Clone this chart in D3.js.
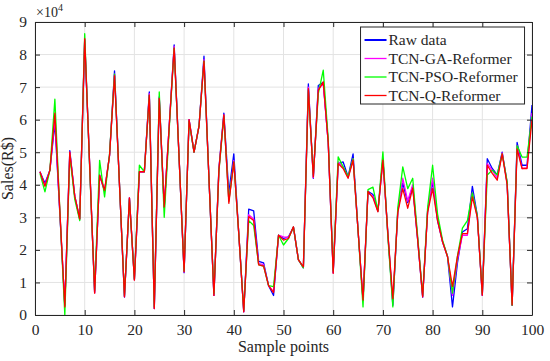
<!DOCTYPE html>
<html>
<head>
<meta charset="utf-8">
<script src="https://cdn.jsdelivr.net/npm/d3@7"></script>
<style>
  body { margin: 0; background: #fff; }
  text { font-family: "Liberation Serif", "Times New Roman", serif; fill: #262626; }
</style>
</head>
<body>
<svg id="chart" width="550" height="361"></svg>
<script>
// values in units of 1e4, sample points 1..100
const rawData = [4.4,4.05,4.45,5.9,3.1,0.3,5.05,3.65,2.95,8.45,4.6,0.7,4.3,3.8,4.9,7.5,4.0,0.55,3.6,1.1,
  4.4,4.4,6.85,0.2,6.7,3.3,5.8,8.3,4.8,1.3,6.0,5.0,5.8,7.95,4.2,0.6,4.5,6.2,3.75,4.95,
  2.5,0.1,3.25,3.2,1.65,1.6,0.9,0.6,2.45,2.35,2.4,2.7,1.7,1.45,7.1,4.2,7.05,7.15,5.3,1.3,
  4.65,4.7,4.25,4.95,2.6,0.45,3.8,3.7,3.2,4.8,2.5,0.3,3.2,4.05,3.45,3.95,2.3,0.55,3.2,4.1,
  2.9,2.25,1.8,0.25,1.6,2.55,2.65,3.95,3.05,0.6,4.8,4.5,4.3,5.0,4.05,0.3,5.3,4.6,4.6,6.45];
const gaData = [4.4,3.98,4.45,6.05,3.15,0.28,5.0,3.65,2.95,8.47,4.6,0.68,4.3,3.82,4.9,7.4,4.0,0.56,3.6,1.08,
  4.4,4.4,6.8,0.2,6.68,3.3,5.8,8.25,4.8,1.32,6.0,5.0,5.8,7.85,4.2,0.6,4.45,6.15,3.5,4.75,
  2.5,0.1,3.08,2.95,1.58,1.55,0.9,0.72,2.45,2.4,2.38,2.7,1.7,1.46,7.0,4.22,6.95,7.1,5.3,1.29,
  4.7,4.55,4.22,4.8,2.6,0.45,3.75,3.65,3.18,4.78,2.45,0.4,3.18,4.2,3.5,4.0,2.35,0.56,3.2,4.2,
  2.95,2.25,1.8,0.6,1.7,2.45,2.45,3.75,3.0,0.61,4.65,4.45,4.2,4.98,4.05,0.3,5.2,4.5,4.52,6.2];
const psoData = [4.35,3.78,4.45,6.63,3.2,0.0,4.9,3.55,2.9,8.64,4.5,0.75,4.75,3.63,4.95,7.4,4.0,0.6,3.55,1.1,
  4.6,4.4,6.75,0.25,6.85,3.0,5.7,8.2,4.8,1.35,5.95,5.0,5.8,7.8,4.2,0.65,4.4,6.1,3.5,4.7,
  2.5,0.15,2.9,2.75,1.55,1.5,0.9,0.87,2.45,2.15,2.35,2.7,1.7,1.45,6.9,4.3,6.8,7.52,5.4,1.35,
  4.86,4.55,4.25,4.8,2.6,0.25,3.85,3.93,3.2,5.01,2.4,0.25,3.3,4.55,3.88,4.2,2.4,0.6,3.3,4.6,
  3.1,2.3,1.8,0.67,1.8,2.67,2.9,3.75,3.05,0.65,4.3,4.45,4.3,4.95,4.1,0.3,5.2,4.85,4.85,6.1];
const qData = [4.4,3.95,4.45,6.2,3.2,0.25,5.0,3.65,2.95,8.49,4.6,0.67,4.29,3.83,4.9,7.35,4.0,0.56,3.6,1.07,
  4.4,4.4,6.75,0.2,6.65,3.32,5.8,8.2,4.8,1.33,6.0,5.0,5.8,7.8,4.2,0.6,4.45,6.15,3.43,4.7,
  2.5,0.1,3.02,2.9,1.54,1.5,0.9,0.69,2.45,2.3,2.35,2.71,1.69,1.48,6.95,4.24,6.9,7.16,5.3,1.28,
  4.65,4.5,4.2,4.76,2.6,0.46,3.8,3.6,3.17,4.76,2.5,0.5,3.15,3.88,3.28,3.9,2.3,0.56,3.15,3.88,
  2.9,2.25,1.79,0.87,1.8,2.5,2.5,3.63,3.0,0.61,4.6,4.35,4.14,4.95,4.0,0.31,5.1,4.5,4.5,6.0];

const seriesNames = ["Raw data", "TCN-GA-Reformer", "TCN-PSO-Reformer", "TCN-Q-Reformer"];
const seriesColors = ["#0000ff", "#ff00ff", "#00ff00", "#ff0000"];
const xTicks = d3.range(0, 101, 10);
const yTicks = d3.range(0, 10, 1);

var svg = d3.select("#chart");
var margin = {top: 22, right: 18, bottom: 46, left: 35},
    width = 550 - margin.left - margin.right,
    height = 361 - margin.top - margin.bottom;

var g = svg.append("g").attr("transform", "translate(" + margin.left + "," + margin.top + ")");

var x = d3.scaleLinear().domain([0, 100]).range([0, width]);
var y = d3.scaleLinear().domain([0, 9]).range([height, 0]);

// grid
g.append("g").selectAll("line").data(xTicks).enter().append("line")
  .attr("x1", d => x(d)).attr("x2", d => x(d)).attr("y1", 0).attr("y2", height)
  .attr("stroke", "#e3e3e3").attr("stroke-width", 1);
g.append("g").selectAll("line").data(yTicks).enter().append("line")
  .attr("x1", 0).attr("x2", width).attr("y1", d => y(d)).attr("y2", d => y(d))
  .attr("stroke", "#e3e3e3").attr("stroke-width", 1);

// lines
var allSeries = [rawData, gaData, psoData, qData];
var line = d3.line().x((d, i) => x(i + 1)).y(d => y(d));
allSeries.forEach(function(s, k) {
  g.append("path").datum(s)
    .attr("fill", "none")
    .attr("stroke", seriesColors[k])
    .attr("stroke-width", 1.3)
    .attr("stroke-linejoin", "round")
    .attr("d", line);
});

// axes (ticks inside, MATLAB style)
var xAxis = d3.axisBottom(x).tickValues(xTicks).tickSizeInner(-5).tickSizeOuter(0).tickPadding(9);
var yAxis = d3.axisLeft(y).tickValues(yTicks).tickSizeInner(-5).tickSizeOuter(0).tickPadding(8);
var xTop = d3.axisTop(x).tickValues(xTicks).tickSizeInner(-5).tickSizeOuter(0).tickFormat("");
var yRight = d3.axisRight(y).tickValues(yTicks).tickSizeInner(-5).tickSizeOuter(0).tickFormat("");

function styleAxis(sel) {
  sel.attr("font-family", "Liberation Serif").attr("font-size", 15);
  sel.selectAll("path").attr("stroke", "#262626");
  sel.selectAll("line").attr("stroke", "#262626");
  sel.selectAll("text")
    .attr("font-family", "Liberation Serif")
    .style("font-family", "'Liberation Serif', serif")
    .style("font-size", "15.5px").attr("fill", "#262626");
}
g.append("g").attr("transform", "translate(0," + height + ")").call(xAxis).call(styleAxis);
g.append("g").call(yAxis).call(styleAxis);
g.append("g").call(xTop).call(styleAxis);
g.append("g").attr("transform", "translate(" + width + ",0)").call(yRight).call(styleAxis);

// labels
g.append("text").attr("x", width / 2).attr("y", height + 37)
  .attr("text-anchor", "middle").style("font-size", "16px").text("Sample points");
g.append("text").attr("transform", "translate(-22," + (height / 2) + ") rotate(-90)")
  .attr("text-anchor", "middle").style("font-size", "16px").text("Sales(R$)");
var exp = g.append("text").attr("x", 1).attr("y", -5).style("font-size", "14px");
exp.append("tspan").text("\u00d710");
exp.append("tspan").attr("dy", -6).style("font-size", "10px").text("4");

// legend
var legend = g.append("g").attr("transform", "translate(" + (x(65.5)) + ",5)");
legend.append("rect").attr("width", 164).attr("height", 77)
  .attr("fill", "#fff").attr("stroke", "#262626").attr("stroke-width", 1);
seriesNames.forEach(function(name, k) {
  var row = legend.append("g").attr("transform", "translate(0," + (13 + k * 18.5) + ")");
  row.append("line").attr("x1", 4).attr("x2", 26).attr("y1", 0).attr("y2", 0)
    .attr("stroke", seriesColors[k]).attr("stroke-width", k === 0 ? 2 : 1.3);
  row.append("text").attr("x", 28).attr("y", 5).style("font-size", "15.5px").text(name);
});
</script>
</body>
</html>
